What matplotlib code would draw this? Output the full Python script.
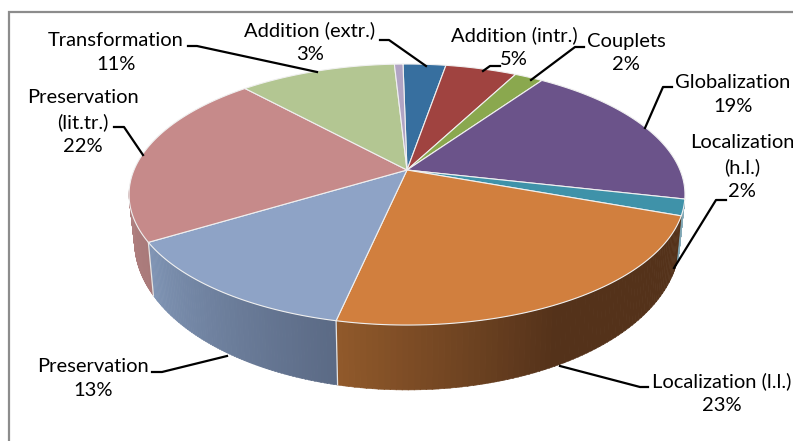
import numpy as np
import matplotlib
matplotlib.use("Agg")
import matplotlib.pyplot as plt
from matplotlib.collections import PolyCollection
from matplotlib.colors import to_rgb

plt.rcParams["font.family"] = ["Lato", "DejaVu Sans"]

# Clockwise from twelve o'clock; the unlabelled sliver closes the circle.
categories = ["Addition (extr.)", "Addition (intr.)", "Couplets", "Globalization",
              "Localization\n(h.l.)", "Localization (l.l.)", "Preservation",
              "Preservation\n(lit.tr.)", "Transformation", ""]
shares = [3, 5, 2, 19, 2, 23, 13, 22, 11, 0.6]
share_labels = ["3%", "5%", "2%", "19%", "2%", "23%", "13%", "22%", "11%", ""]
top_colors = ["#376f9f", "#a04340", "#8aa84e", "#6b538a", "#3f92a9",
              "#d17f3e", "#8ea3c6", "#c68a8a", "#b3c692", "#b1a4c4"]

# Side-wall shading: (colour at the slice's clockwise start, colour at its end, fraction held at the start colour)
wall_shades = {
    4: ("#8fb4c2", "#7fa5b2", 0.0),
    5: ("#54321a", "#925a2b", 0.52),
    6: ("#5b6a85", "#8095b5", 0.0),
    7: ("#a97a7a", "#b08080", 0.0),
}

# Projection of the unit disc onto the page (pixels)
CX, CY = 407.0, 170.0
RX, RY, PERSP = 273.0, 125.9, 0.188
START_ANGLE = np.radians(-1.0)


def rim(theta):
    """Top rim point for a clockwise angle measured from twelve o'clock."""
    x, y = np.sin(theta), np.cos(theta)
    d = 1 + PERSP * y
    return CX + RX * x / d, CY - RY * y / d


def base(theta):
    """Bottom rim point lying below the top rim point."""
    x, y = rim(theta)
    return 415 + 0.981 * (x - 415), 1.14 * y + 19.4


fig = plt.figure(figsize=(7.93, 4.41), dpi=100, facecolor="white")
ax = fig.add_axes([0, 0, 1, 1])
ax.set_xlim(0, 793)
ax.set_ylim(441, 0)
ax.axis("off")

# Chart frame: only the left and top edges fall inside the page
ax.plot([9, 9, 800], [445, 12, 12], color="#8c8c8c", lw=1.6, zorder=1, solid_joinstyle="miter")

fractions = np.array(shares, dtype=float) / sum(shares)
edges = START_ANGLE + np.concatenate([[0], np.cumsum(fractions)]) * 2 * np.pi

# Side walls
for i, (c0, c1, hold) in wall_shades.items():
    end = min(edges[i + 1], np.radians(262))
    th = np.linspace(edges[i], end, 80)
    quads, cols = [], []
    for j in range(len(th) - 1):
        a, b = th[j], th[j + 1] + 0.002
        quads.append([rim(a), rim(b), base(b), base(a)])
        u = (th[j] - th[0]) / (th[-1] - th[0])
        t = max(0.0, (u - hold) / (1 - hold))
        cols.append(tuple((1 - t) * np.array(to_rgb(c0)) + t * np.array(to_rgb(c1))))
    ax.add_collection(PolyCollection(quads, facecolors=cols, edgecolors=cols, linewidths=0.4, zorder=2))
    # Pale seams between the front slices
    if i in (6, 7):
        p, q = rim(edges[i]), base(edges[i])
        ax.plot([p[0], q[0]], [p[1], q[1]], color="#e4e4e4", lw=0.9, zorder=2.5)

# Top face
for i, col in enumerate(top_colors):
    th = np.linspace(edges[i], edges[i + 1], 80)
    xs, ys = rim(th)
    ax.fill(np.r_[CX, xs], np.r_[CY, ys], facecolor=col, edgecolor="#f0f0f0", lw=0.8,
            zorder=3, joinstyle="round")

# Leader lines
leaders = [
    ([380, 389, 426], [40, 40, 66]),
    ([500, 490, 483], [66, 66, 71]),
    ([584, 575, 531], [47, 47, 80]),
    ([672, 663, 645], [87, 87, 128]),
    ([726, 716, 674], [200, 200, 268]),
    ([648, 640, 560], [387, 387, 366]),
    ([152, 162, 227], [372, 372, 356]),
    ([114, 124, 143], [127, 127, 155]),
    ([188, 197, 317], [46, 46, 72]),
]
for lx, ly in leaders:
    ax.plot(lx, ly, color="black", lw=1.6, zorder=4, solid_joinstyle="round")

# Data labels, centred on their block
label_anchor = [(310, 42), (514, 47), (626, 53), (733, 94), (742, 167),
                (722, 393), (93, 379), (83, 122), (116, 53)]
for name, pct, (tx, ty) in zip(categories, share_labels, label_anchor):
    ax.text(tx, ty, f"{name}\n{pct}", ha="center", va="center", fontsize=14.5,
            color="black", linespacing=1.5, zorder=5)

fig.savefig("out.png", dpi=100)
